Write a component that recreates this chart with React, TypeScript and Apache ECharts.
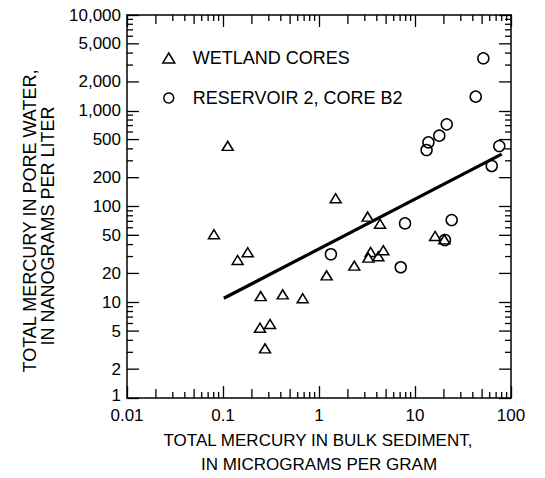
import React, { useEffect, useRef } from "react";
import * as echarts from "echarts";

const X_MIN = 0.01;
const X_MAX = 100;
const Y_MIN = 1;
const Y_MAX = 10000;

// Wetland cores (triangles)
const wetlandX = [0.112, 0.0805, 0.142, 0.181, 0.247, 0.243, 0.309, 0.274, 0.419, 0.676, 1.2, 1.49, 2.33, 3.21, 3.45, 3.27, 4.15, 4.68, 4.32, 16.2, 20.2];
const wetlandY = [430, 51.3, 27.6, 33.3, 11.6, 5.42, 5.93, 3.3, 12.1, 11.0, 19.1, 122, 24.1, 78.4, 33.5, 29.2, 30.2, 34.9, 66.1, 49.2, 45.4];

// Reservoir 2, core B2 (circles)
const reservoirX = [51.5, 42.9, 21.4, 17.9, 13.8, 13.2, 75.5, 63.0, 7.87, 24.1, 20.5, 7.1, 1.33];
const reservoirY = [3530, 1403, 721, 549, 468, 389, 428, 265, 66.6, 72.2, 44.7, 23.2, 31.7];

// Regression line end points
const fitX = [0.102, 80];
const fitY = [11.0, 353];

// Tick values
const xDecades = [0.01, 0.1, 1, 10];
const yDecades = [1, 10, 100, 1000];
const minorMultipliers = [2, 3, 4, 5, 6, 7, 8, 9];
const yLabeledMultipliers = [2, 5];

const FONT = "'Liberation Sans', Arial, Helvetica, sans-serif";

function fmtY(v: number) {
  return Math.round(v).toLocaleString("en-US");
}
function fmtYAxis(v: number) {
  const s = fmtY(v);
  return Math.round(v) === Y_MIN ? `{low|${s}}` : s;
}
function fmtX(v: number) {
  if (v >= 1) return String(Math.round(v));
  return String(+v.toPrecision(1));
}

export default function App() {
  const ref = useRef<HTMLDivElement>(null);
  useEffect(() => {
    document.body.style.margin = "0";
    if (!ref.current) return;
    const chart = echarts.init(ref.current, null, { renderer: "svg" });

    const yMinor: number[][] = [];
    yDecades.forEach((d) => {
      minorMultipliers.forEach((m) => {
        const labeled = yLabeledMultipliers.indexOf(m) >= 0 ? 1 : 0;
        yMinor.push([X_MIN, d * m, labeled ? 12 : 6, labeled]);
      });
    });
    const xMinor: number[][] = [];
    xDecades.forEach((d) => {
      minorMultipliers.forEach((m) => {
        const mid = yLabeledMultipliers.indexOf(m) >= 0;
        xMinor.push([d * m, Y_MIN, mid ? 9 : 6]);
      });
    });

    const axisCommon = {
      type: "log",
      logBase: 10,
      axisLine: { show: true, lineStyle: { color: "#000", width: 1.5 } },
      axisTick: { show: true, inside: true, length: 12, lineStyle: { color: "#000", width: 1.3 } },
      splitLine: { show: false },
      minorTick: { show: false },
    };

    const option: any = {
      animation: false,
      grid: { left: 127, right: 34, top: 15, bottom: 80, containLabel: false },
      xAxis: [
        {
          ...axisCommon,
          position: "bottom",
          min: X_MIN,
          max: X_MAX,
          axisLabel: { show: true, margin: 10, lineHeight: 14, color: "#000", fontSize: 17, fontFamily: FONT, formatter: fmtX },
        },
        {
          ...axisCommon,
          position: "top",
          min: X_MIN,
          max: X_MAX,
          axisLabel: { show: false },
        },
      ],
      yAxis: [
        {
          ...axisCommon,
          position: "left",
          min: Y_MIN,
          max: Y_MAX,
          axisLabel: {
            show: true,
            margin: 6,
            lineHeight: 14,
            color: "#000",
            fontSize: 17,
            fontFamily: FONT,
            formatter: fmtYAxis,
            rich: { low: { fontSize: 17, fontFamily: FONT, color: "#000", lineHeight: 14, padding: [0, 0, 6, 0] } },
          },
        },
        {
          ...axisCommon,
          position: "right",
          min: Y_MIN,
          max: Y_MAX,
          axisLabel: { show: false },
        },
      ],
      legend: {
        data: [
          { name: "WETLAND CORES", icon: "triangle" },
          { name: "RESERVOIR 2, CORE B2", icon: "circle" },
        ],
        orient: "vertical",
        left: 157,
        top: 44,
        itemWidth: 12,
        itemHeight: 10,
        itemGap: 22,
        symbolKeepAspect: true,
        selectedMode: false,
        itemStyle: { color: "#fff", borderColor: "#000", borderWidth: 1.5 },
        textStyle: { color: "#000", fontSize: 18, fontFamily: FONT, padding: [0, 0, 0, 13] },
      },
      graphic: [
        {
          type: "text",
          x: 30,
          y: 221,
          rotation: Math.PI / 2,
          style: { text: "TOTAL MERCURY IN PORE WATER,", fill: "#000", font: `18px ${FONT}`, align: "center", verticalAlign: "middle" },
        },
        {
          type: "text",
          x: 47.5,
          y: 226,
          rotation: Math.PI / 2,
          style: { text: "IN NANOGRAMS PER LITER", fill: "#000", font: `18px ${FONT}`, align: "center", verticalAlign: "middle" },
        },
        {
          type: "text",
          x: 318,
          y: 440,
          style: { text: "TOTAL MERCURY IN BULK SEDIMENT,", fill: "#000", font: `17px ${FONT}`, align: "center", verticalAlign: "middle" },
        },
        {
          type: "text",
          x: 319,
          y: 464,
          style: { text: "IN MICROGRAMS PER GRAM", fill: "#000", font: `17px ${FONT}`, align: "center", verticalAlign: "middle" },
        },
      ],
      series: [
        {
          name: "WETLAND CORES",
          type: "scatter",
          symbol: "triangle",
          symbolSize: [11, 9],
          itemStyle: { color: "#fff", borderColor: "#000", borderWidth: 1.5, opacity: 1 },
          data: wetlandX.map((x, i) => [x, wetlandY[i]]),
          z: 3,
        },
        {
          name: "RESERVOIR 2, CORE B2",
          type: "scatter",
          symbol: "circle",
          symbolSize: 11,
          itemStyle: { color: "rgba(255,255,255,0)", borderColor: "#000", borderWidth: 1.5, opacity: 1 },
          data: reservoirX.map((x, i) => [x, reservoirY[i]]),
          z: 4,
        },
        {
          name: "fit",
          type: "line",
          showSymbol: false,
          symbol: "none",
          lineStyle: { color: "#000", width: 3.2 },
          data: fitX.map((x, i) => [x, fitY[i]]),
          z: 2,
        },
        {
          name: "yTicks",
          type: "custom",
          silent: true,
          data: yMinor,
          encode: { x: 0, y: 1 },
          renderItem: (params: any, api: any) => {
            const v = api.value(1);
            const len = api.value(2);
            const labeled = api.value(3);
            const pL = api.coord([X_MIN, v]);
            const pR = api.coord([X_MAX, v]);
            const children: any[] = [
              { type: "line", shape: { x1: pL[0], y1: pL[1], x2: pL[0] + len, y2: pL[1] }, style: { stroke: "#000", lineWidth: 1.3 } },
              { type: "line", shape: { x1: pR[0] - len, y1: pR[1], x2: pR[0], y2: pR[1] }, style: { stroke: "#000", lineWidth: 1.3 } },
            ];
            if (labeled) {
              children.push({
                type: "text",
                x: pL[0] - 6,
                y: pL[1],
                style: { text: fmtY(v), fill: "#000", font: `17px ${FONT}`, align: "right", verticalAlign: "middle" },
              });
            }
            return { type: "group", children };
          },
        },
        {
          name: "xTicks",
          type: "custom",
          silent: true,
          data: xMinor,
          encode: { x: 0, y: 1 },
          renderItem: (params: any, api: any) => {
            const v = api.value(0);
            const len = api.value(2);
            const pB = api.coord([v, Y_MIN]);
            const pT = api.coord([v, Y_MAX]);
            return {
              type: "group",
              children: [
                { type: "line", shape: { x1: pB[0], y1: pB[1], x2: pB[0], y2: pB[1] - len }, style: { stroke: "#000", lineWidth: 1.3 } },
                { type: "line", shape: { x1: pT[0], y1: pT[1], x2: pT[0], y2: pT[1] + len }, style: { stroke: "#000", lineWidth: 1.3 } },
              ],
            };
          },
        },
      ],
    };

    chart.setOption(option);
    return () => chart.dispose();
  }, []);
  return <div ref={ref} style={{ width: 545, height: 478 }} />;
}
